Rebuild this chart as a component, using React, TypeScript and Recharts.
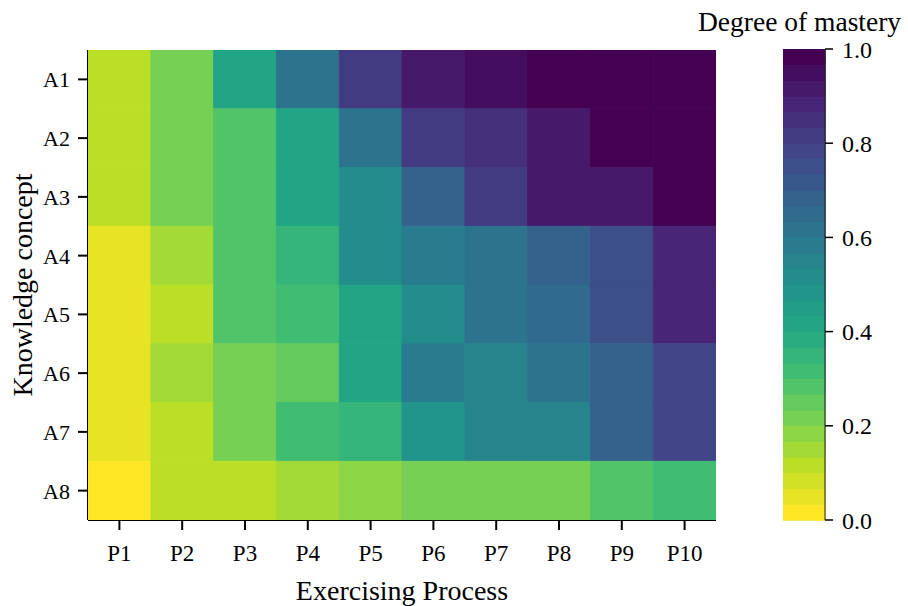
import {
  ScatterChart, Scatter, XAxis, YAxis, Label,
  BarChart, Bar, Cell,
} from 'recharts';

const processes = ['P1', 'P2', 'P3', 'P4', 'P5', 'P6', 'P7', 'P8', 'P9', 'P10'];
const concepts = ['A1', 'A2', 'A3', 'A4', 'A5', 'A6', 'A7', 'A8'];

// degree of mastery per knowledge concept, P1..P10
const masteryA1 = [0.10, 0.20, 0.42, 0.60, 0.83, 0.93, 0.95, 1.00, 1.00, 1.00];
const masteryA2 = [0.10, 0.20, 0.28, 0.40, 0.60, 0.83, 0.85, 0.90, 1.00, 1.00];
const masteryA3 = [0.10, 0.20, 0.28, 0.40, 0.52, 0.68, 0.83, 0.92, 0.93, 1.00];
const masteryA4 = [0.04, 0.15, 0.28, 0.35, 0.52, 0.57, 0.62, 0.67, 0.75, 0.87];
const masteryA5 = [0.04, 0.12, 0.27, 0.30, 0.42, 0.53, 0.62, 0.65, 0.75, 0.87];
const masteryA6 = [0.04, 0.15, 0.22, 0.25, 0.42, 0.58, 0.55, 0.62, 0.68, 0.78];
const masteryA7 = [0.04, 0.10, 0.23, 0.30, 0.36, 0.47, 0.55, 0.56, 0.68, 0.78];
const masteryA8 = [0.00, 0.10, 0.10, 0.15, 0.18, 0.20, 0.20, 0.23, 0.28, 0.32];

const colorbarTicks = [0, 0.2, 0.4, 0.6, 0.8, 1.0];

const rows = [masteryA1, masteryA2, masteryA3, masteryA4, masteryA5, masteryA6, masteryA7, masteryA8];

// viridis stops
const viridis = ['#440154', '#482475', '#414487', '#355f8d', '#2a788e', '#21918c',
  '#22a884', '#44bf70', '#7ad151', '#bddf26', '#fde725'];

function hexToRgb(h: string) {
  return [1, 3, 5].map((i) => parseInt(h.slice(i, i + 2), 16));
}

function viridisAt(t: number) {
  const s = Math.max(0, Math.min(1, t)) * (viridis.length - 1);
  const i = Math.min(Math.floor(s), viridis.length - 2);
  const f = s - i;
  const a = hexToRgb(viridis[i]);
  const b = hexToRgb(viridis[i + 1]);
  const c = a.map((v, k) => Math.round(v + (b[k] - v) * f));
  return `rgb(${c[0]},${c[1]},${c[2]})`;
}

const LEVELS = 30;
// reversed viridis, quantized like a discrete colormap
function colorFor(v: number) {
  const idx = Math.min(LEVELS - 1, Math.floor(v * LEVELS));
  return viridisAt(1 - idx / (LEVELS - 1));
}

const cells = rows.flatMap((row, r) =>
  row.map((v, p) => ({ x: p + 1, y: r + 1, v }))
);

const bins = Array.from({ length: LEVELS }, (_, i) => i);
const colorbarRow: Record<string, number | string> = { name: 'cb' };
bins.forEach((i) => { colorbarRow['b' + i] = 1 / LEVELS; });

const font = '"Liberation Serif", "DejaVu Serif", serif';

const W = 908;
const H = 606;
const M = { top: 50, right: 192, bottom: 0, left: 0 };
const Y_W = 88;
const X_H = 86;
const cellW = (W - M.left - M.right - Y_W) / processes.length;
const cellH = (H - M.top - M.bottom - X_H) / concepts.length;

const HeatCell = (props: any) => {
  const { cx, cy, payload } = props;
  const c = colorFor(payload.v);
  return (
    <rect
      x={cx - cellW / 2}
      y={cy - cellH / 2}
      width={cellW}
      height={cellH}
      fill={c}
      stroke={c}
      strokeWidth={0.8}
    />
  );
};

const XTick = (props: any) => {
  const { x, y, payload } = props;
  return (
    <text x={x} y={y} dy="0.71em" textAnchor="middle" fill="#000" fontSize={23} fontFamily={font}>
      {processes[payload.value - 1]}
    </text>
  );
};

const YTick = (props: any) => {
  const { x, y, payload } = props;
  return (
    <text x={x} y={y} dy="0.36em" textAnchor="end" fill="#000" fontSize={22} fontFamily={font}>
      {concepts[payload.value - 1]}
    </text>
  );
};

const CbTick = (props: any) => {
  const { x, y, payload } = props;
  return (
    <text x={x} y={y} dy="0.36em" textAnchor="start" fill="#000" fontSize={24} fontFamily={font}>
      {Number(payload.value).toFixed(1)}
    </text>
  );
};

export default function App() {
  return (
    <div style={{ position: 'absolute', left: 0, top: 0, width: W, height: H, background: '#fff', fontFamily: font }}>
      <ScatterChart width={W} height={H} margin={M} style={{ fontFamily: font }}>
        <XAxis
          type="number"
          dataKey="x"
          domain={[0.5, processes.length + 0.5]}
          ticks={processes.map((_, i) => i + 1)}
          height={X_H}
          allowDataOverflow
          axisLine={{ stroke: '#000', strokeWidth: 2 }}
          tickLine={{ stroke: '#000', strokeWidth: 2 }}
          tickSize={10}
          tick={<XTick />}
          tickMargin={15}
        >
          <Label value="Exercising Process" position="insideBottom" offset={6}
            style={{ fill: '#000', fontSize: 28, fontFamily: font }} />
        </XAxis>
        <XAxis xAxisId="top" orientation="top" type="number" domain={[0.5, processes.length + 0.5]}
          height={0} tick={false} tickLine={false} axisLine={{ stroke: '#000', strokeWidth: 2 }} />
        <YAxis
          type="number"
          dataKey="y"
          domain={[0.5, concepts.length + 0.5]}
          ticks={concepts.map((_, i) => i + 1)}
          reversed
          width={Y_W}
          allowDataOverflow
          axisLine={{ stroke: '#000', strokeWidth: 2 }}
          tickLine={{ stroke: '#000', strokeWidth: 2 }}
          tickSize={10}
          tick={<YTick />}
          tickMargin={8}
        >
          <Label value="Knowledge concept" angle={-90} position="insideLeft" offset={22}
            style={{ fill: '#000', fontSize: 28, fontFamily: font, textAnchor: 'middle' }} />
        </YAxis>
        <YAxis yAxisId="right" orientation="right" type="number" domain={[0.5, concepts.length + 0.5]}
          width={0} tick={false} tickLine={false} axisLine={{ stroke: '#000', strokeWidth: 2 }} />
        <Scatter data={cells} shape={HeatCell} isAnimationActive={false} />
      </ScatterChart>

      <div style={{ position: 'absolute', left: 698, top: 6, fontSize: 27.5, color: '#000', whiteSpace: 'nowrap', lineHeight: '32px' }}>
        Degree of mastery
      </div>

      <div style={{ position: 'absolute', left: 783, top: 0 }}>
        <BarChart width={125} height={H} data={[colorbarRow]} margin={{ top: 49, right: 0, bottom: 86, left: 0 }}
          barCategoryGap={0}>
          <XAxis dataKey="name" height={0} tick={false} tickLine={false} axisLine={{ stroke: '#222', strokeWidth: 1 }} />
          <XAxis xAxisId="top" dataKey="name" orientation="top" height={0} tick={false} tickLine={false}
            axisLine={{ stroke: '#222', strokeWidth: 1 }} />
          <YAxis yAxisId="left" orientation="left" width={0} domain={[0, 1]} tick={false} tickLine={false}
            axisLine={{ stroke: '#222', strokeWidth: 1 }} />
          <YAxis
            orientation="right"
            domain={[0, 1]}
            ticks={colorbarTicks}
            width={83}
            axisLine={{ stroke: '#222', strokeWidth: 1 }}
            tickLine={{ stroke: '#000', strokeWidth: 1.5 }}
            tickSize={8}
            tickMargin={9}
            tick={<CbTick />}
          />
          {bins.map((i) => (
            <Bar key={i} dataKey={'b' + i} stackId="cb" isAnimationActive={false}>
              <Cell fill={viridisAt(1 - i / (LEVELS - 1))} stroke={viridisAt(1 - i / (LEVELS - 1))}
                strokeWidth={0.8} shapeRendering="crispEdges" />
            </Bar>
          ))}
        </BarChart>
      </div>
    </div>
  );
}
